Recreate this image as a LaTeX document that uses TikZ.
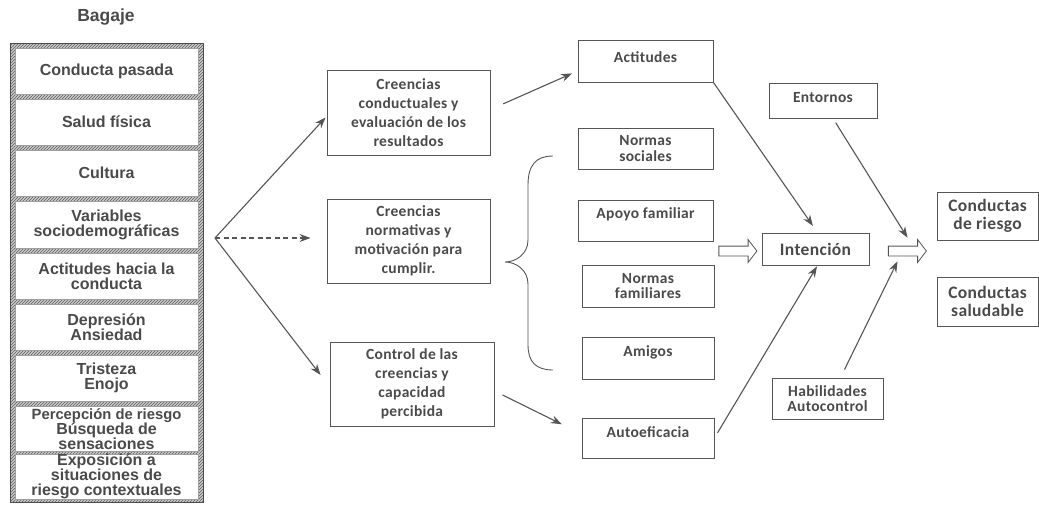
\documentclass[tikz,border=0pt]{standalone}
\usepackage{fontspec}
\setmainfont{Liberation Sans}
\newfontfamily\calfont[LetterSpace=2.0]{Carlito}
\usetikzlibrary{patterns,arrows.meta,shapes.arrows,calc}
\definecolor{ink}{HTML}{555555}
\definecolor{txt}{HTML}{4a4a4a}

\begin{document}
\begin{tikzpicture}[x=1pt,y=-1pt,
  rowbox/.style={fill=white, draw=gray!75, line width=0.5pt, inner sep=0pt,
    minimum width=183pt, align=center, text=txt,
    font=\bfseries\fontsize{16}{15}\selectfont},
  cbox/.style={draw=ink, line width=0.9pt, inner sep=0pt, align=center, text=txt,
    font=\calfont\bfseries\fontsize{15.5}{19}\selectfont},
  sbox/.style={cbox, font=\calfont\bfseries\fontsize{15.5}{15.5}\selectfont},
  bigbox/.style={cbox, font=\calfont\bfseries\fontsize{17.5}{18}\selectfont},
  hollow/.style={single arrow, draw=ink, line width=0.8pt, fill=white,
    minimum height=38pt, inner xsep=0pt, inner ysep=4.5pt,
    single arrow head extend=6.5pt, single arrow tip angle=105},
  arr/.style={draw=ink, line width=1.1pt, -{Stealth[length=11pt,width=8pt]}}
]
\useasboundingbox (0,0) rectangle (1039,506);

% ---- Bagaje column: hatched frame with white rows ----
\node[text=txt, font=\bfseries\fontsize{17.5}{17.5}\selectfont] (title) at (106,17) {Bagaje};
\fill[gray!40] (10,43) rectangle (203,502);
\fill[pattern=north east lines, pattern color=black!65] (10,43) rectangle (203,502);
\draw[gray!60!black, line width=0.6pt] (10,43) rectangle (203,502);

\node[rowbox, minimum height=46pt]   (b1) at (106.5,71)     {Conducta pasada};
\node[rowbox, minimum height=46pt]   (b2) at (106.5,122)    {Salud física};
\node[rowbox, minimum height=46.5pt] (b3) at (106.5,173.25) {Cultura};
\node[rowbox, minimum height=46.5pt] (b4) at (106.5,224.75) {Variables\\sociodemográficas};
\node[rowbox, minimum height=46.5pt] (b5) at (106.5,276.25) {Actitudes hacia la\\conducta};
\node[rowbox, minimum height=46pt]   (b6) at (106.5,327.5)  {Depresión\\Ansiedad};
\node[rowbox, minimum height=45.5pt] (b7) at (106.5,378.25) {Tristeza\\Enojo};
\node[rowbox, minimum height=45.5pt] (b8) at (106.5,428.75)
  {{\fontsize{14.8}{15}\selectfont Percepción de riesgo}\\Búsqueda de\\sensaciones};
\node[rowbox, minimum height=40.5pt] (b9) at (106.5,476.75) {Exposición a\\situaciones de\\riesgo contextuales};

% ---- belief boxes ----
\node[cbox, minimum width=163pt, minimum height=85pt] (cc) at (408.5,112.5)
  {Creencias\\conductuales y\\evaluación de los\\resultados};
\node[cbox, minimum width=163pt, minimum height=84pt] (cn) at (408.5,241)
  {Creencias\\normativas y\\motivación para\\cumplir.};
\node[cbox, minimum width=164pt, minimum height=84pt] (ctl) at (412,384)
  {Control de las\\creencias y\\capacidad\\percibida};

% ---- mediating factors ----
\node[cbox, minimum width=135pt, minimum height=42pt, text height=10pt, text depth=8pt] (act) at (645.5,61) {Actitudes};
\node[sbox, minimum width=135pt, minimum height=41pt] (ns) at (645.5,148.5) {Normas\\sociales};
\node[cbox, minimum width=135pt, minimum height=41pt, text height=10pt, text depth=14pt] (af) at (645.5,220.5) {Apoyo familiar};
\node[sbox, minimum width=132pt, minimum height=42pt] (nf) at (648,286) {Normas\\familiares};
\node[cbox, minimum width=132pt, minimum height=42pt, text height=10pt, text depth=14pt] (am) at (648,358) {Amigos};
\node[cbox, minimum width=132pt, minimum height=40pt, text height=10pt, text depth=12pt] (ae) at (648,438) {Autoeficacia};

% brace grouping the normative factors
\draw[ink, line width=0.9pt] (553,156) .. controls (536,156) and (528,165) .. (528,185)
  -- (528,240) .. controls (528,254) and (516,262) .. (505,262)
  .. controls (516,262) and (528,270) .. (528,284)
  -- (528,345) .. controls (528,362) and (536,370) .. (553,370);

% ---- intention and behaviour ----
\node[bigbox, minimum width=107pt, minimum height=32pt] (int) at (815.5,249) {Intención};
\node[cbox, minimum width=108pt, minimum height=35pt, text height=10pt, text depth=6pt] (ent) at (823,100.5) {Entornos};
\node[sbox, minimum width=111pt, minimum height=41pt] (hab) at (827.5,398.5) {Habilidades\\Autocontrol};
\node[bigbox, minimum width=101pt, minimum height=48pt] (cr) at (987.5,216) {Conductas\\de riesgo};
\node[bigbox, minimum width=101pt, minimum height=49pt] (cs) at (987.5,301.5) {Conductas\\saludable};

\node[hollow] (ba1) at (736,251) {};
\node[hollow] (ba2) at (905.5,251) {};

% ---- connectors ----
\coordinate (fork) at (215,238);
\draw[arr] (fork) -- ($(cc.west)+(-1,5)$);
\draw[arr, dash pattern=on 5pt off 3.5pt] (fork) -- ($(cn.west)+(-16,-3)$);
\draw[arr] (fork) -- ($(ctl.west)+(-9,-9)$);
\draw[arr, shorten <=14pt, shorten >=6pt] ($(cc.east)+(0,-3)$) -- ($(act.west)+(0,10)$);
\draw[arr, shorten <=9pt, shorten >=22pt] ($(ctl.east)+(0,7)$) -- ($(ae.west)+(0,-4)$);
\draw[arr, shorten >=8pt] (act.south east) -- ($(int.north)+(2,0)$);
\draw[arr, shorten <=5pt] ($(ent.south)+(10,0)$) -- ($(ba2.north)+(2,-8)$);
\draw[arr, shorten <=6pt, shorten >=1pt] (ae.east) -- ($(int.south)+(2,0)$);
\draw[arr] ($(hab.north)+(17,-8)$) -- ($(ba2.south)+(-8,5)$);
\end{tikzpicture}
\end{document}
